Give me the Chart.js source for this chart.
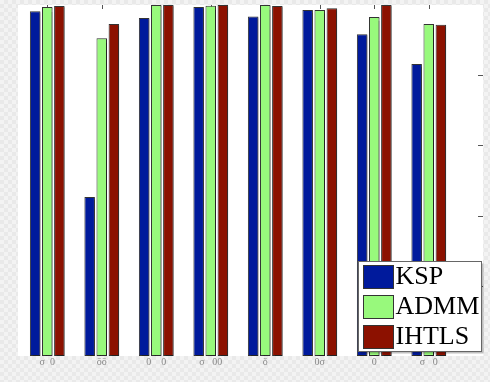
<!DOCTYPE html>
<html>
<head>
<meta charset="utf-8">
<script src="https://cdn.jsdelivr.net/npm/chart.js@4.4.1/dist/chart.umd.min.js"></script>
<style>
  html, body { margin: 0; padding: 0; }
  body {
    width: 490px; height: 382px; overflow: hidden;
    background-color: #efefef;
    background-image: repeating-conic-gradient(#e9e9e9 0% 25%, #f3f3f3 0% 50%);
    background-size: 8px 8px;
  }
  #wrap { position: relative; width: 490px; height: 382px; }
</style>
</head>
<body>
<div id="wrap"><canvas id="barChart" width="490" height="382"></canvas></div>
<script>
const categories = ['σ  0', 'ōō', '0    0', 'σ   00', 'ǒ', '0σ', '0', 'σ   0'];
const seriesNames = ['KSP', 'ADMM', 'IHTLS'];
const kspValues   = [0.982, 0.453, 0.963, 0.994, 0.967, 0.986, 0.917, 0.832];
const admmValues  = [0.994, 0.905, 1.000, 0.998, 1.000, 0.986, 0.966, 0.946];
const ihtlsValues = [0.997, 0.946, 1.000, 1.000, 0.997, 0.991, 1.000, 0.944];
const yTicks = [0, 0.2, 0.4, 0.6, 0.8, 1];

const fills = ['#001a9c', '#98f97c', '#8c1100'];
const extraRight = 27; // white plot area continues past the last group

document.addEventListener('DOMContentLoaded', () => {
  try {
    const ctx = document.getElementById('barChart').getContext('2d');

    const plotDecor = {
      id: 'plotDecor',
      beforeDraw(chart) {
        const a = chart.chartArea;
        const c = chart.ctx;
        c.save();
        c.fillStyle = '#ffffff';
        c.fillRect(a.left - 2, a.top, a.right - a.left + 2 + extraRight, a.bottom - a.top);
        c.restore();
      },
      beforeDatasetsDraw(chart) {
        const a = chart.chartArea;
        const c = chart.ctx;
        const x = chart.scales.x;
        const y = chart.scales.y;
        c.save();
        c.strokeStyle = '#555';
        c.lineWidth = 1;
        categories.forEach((_, i) => {
          const px = Math.round(x.getPixelForValue(i)) + 0.5;
          c.beginPath();
          c.moveTo(px, a.top);
          c.lineTo(px, a.top + 4);
          c.stroke();
        });
        const rx = a.right + extraRight;
        yTicks.slice(1, -1).forEach(v => {
          const py = Math.round(y.getPixelForValue(v)) + 0.5;
          c.beginPath();
          c.moveTo(rx - 5, py);
          c.lineTo(rx, py);
          c.stroke();
        });
        c.restore();
        c.save();
        c.shadowColor = 'rgba(0,0,0,0.35)';
        c.shadowOffsetX = 2;
        c.shadowOffsetY = 1;
        c.shadowBlur = 1;
      },
      afterDatasetsDraw(chart) {
        chart.ctx.restore();
      },
      afterDraw(chart) {
        const a = chart.chartArea;
        const c = chart.ctx;
        const boxW = 123, boxH = 90;
        const bx = a.right + extraRight - 2 - boxW + 0.5;
        const by = a.bottom - 5 - boxH + 0.5;
        c.save();
        c.shadowColor = 'rgba(0,0,0,0.25)';
        c.shadowOffsetX = 2;
        c.shadowOffsetY = 2;
        c.fillStyle = '#ffffff';
        c.fillRect(bx, by, boxW, boxH);
        c.restore();
        c.save();
        c.strokeStyle = '#666';
        c.lineWidth = 1;
        c.strokeRect(bx, by, boxW, boxH);
        c.font = '26px "Liberation Serif", "DejaVu Serif", serif';
        c.textBaseline = 'middle';
        chart.data.datasets.forEach((ds, i) => {
          const cy = by + 15 + i * 30;
          c.fillStyle = ds.backgroundColor;
          c.fillRect(bx + 5, cy - 11, 30, 23);
          c.strokeStyle = '#333';
          c.strokeRect(bx + 5, cy - 11, 30, 23);
          c.fillStyle = '#000';
          c.fillText(ds.label, bx + 37, cy + 1);
        });
        c.restore();
      }
    };

    new Chart(ctx, {
      type: 'bar',
      data: {
        labels: categories,
        datasets: [
          { label: seriesNames[0], data: kspValues,   backgroundColor: fills[0] },
          { label: seriesNames[1], data: admmValues,  backgroundColor: fills[1] },
          { label: seriesNames[2], data: ihtlsValues, backgroundColor: fills[2] }
        ]
      },
      options: {
        responsive: false,
        animation: false,
        layout: { padding: { left: 20, right: 34, top: 5, bottom: 14 } },
        datasets: {
          bar: {
            categoryPercentage: 0.666,
            barPercentage: 0.87,
            borderColor: '#333',
            borderWidth: 1,
            borderSkipped: false
          }
        },
        plugins: {
          legend: { display: false },
          tooltip: { enabled: false }
        },
        scales: {
          x: {
            grid: { display: false, drawTicks: false },
            border: { display: false },
            ticks: {
              color: '#888',
              padding: 0,
              maxRotation: 0,
              autoSkip: false,
              font: { family: '"Liberation Serif", serif', size: 10 }
            }
          },
          y: {
            display: false,
            min: 0,
            max: 1,
            ticks: { stepSize: 0.2 }
          }
        }
      },
      plugins: [plotDecor]
    });
  } catch (error) {
    console.error('Error drawing chart:', error);
  }
});
</script>
</body>
</html>
